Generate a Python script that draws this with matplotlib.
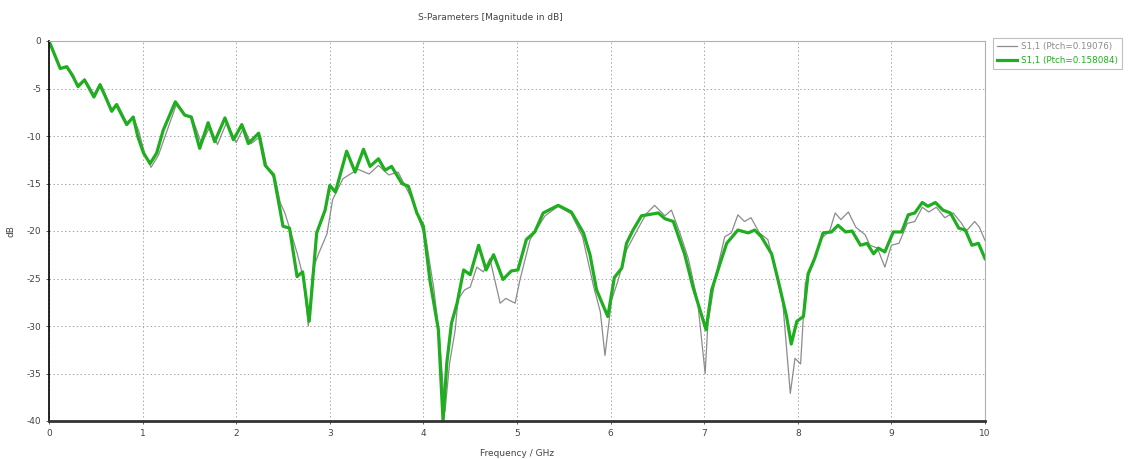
import matplotlib
matplotlib.use("Agg")
import matplotlib.pyplot as plt

# S1,1 for the two pitch values (GHz, dB)
green_f = [0.00, 0.05, 0.12, 0.19, 0.25, 0.31, 0.38, 0.48, 0.545, 0.60, 0.67, 0.72,
           0.83, 0.90, 0.95, 1.01, 1.08, 1.15, 1.22, 1.35, 1.45, 1.52, 1.61, 1.70,
           1.77, 1.88, 1.97, 2.06, 2.13, 2.24, 2.31, 2.40, 2.50, 2.57, 2.65, 2.71,
           2.78, 2.86, 2.95, 3.00, 3.06, 3.18, 3.27, 3.36, 3.43, 3.52, 3.59, 3.66,
           3.77, 3.84, 3.93, 4.00, 4.07, 4.16, 4.21, 4.25, 4.30, 4.36, 4.43, 4.50,
           4.59, 4.67, 4.75, 4.85, 4.94, 5.01, 5.10, 5.19, 5.28, 5.44, 5.58, 5.71,
           5.78, 5.85, 5.97, 6.04, 6.12, 6.17, 6.24, 6.33, 6.51, 6.58, 6.67, 6.79,
           6.88, 7.02, 7.08, 7.17, 7.24, 7.36, 7.47, 7.54, 7.61, 7.72, 7.79, 7.88,
           7.93, 7.99, 8.06, 8.11, 8.18, 8.27, 8.36, 8.43, 8.51, 8.58, 8.67, 8.74,
           8.81, 8.86, 8.93, 9.02, 9.11, 9.18, 9.25, 9.33, 9.39, 9.47, 9.55, 9.63,
           9.72, 9.79, 9.86, 9.93, 10.00]
green_db = [0.0, -1.2, -2.9, -2.7, -3.6, -4.8, -4.1, -5.9, -4.6, -5.8, -7.4, -6.7,
            -8.8, -8.0, -10.1, -11.8, -12.9, -11.8, -9.4, -6.4, -7.8, -8.0, -11.3, -8.6,
            -10.6, -8.1, -10.4, -8.8, -10.8, -9.7, -13.1, -14.1, -19.5, -19.7, -24.8, -24.3,
            -29.5, -20.2, -17.8, -15.2, -15.9, -11.6, -13.8, -11.4, -13.2, -12.4, -13.6, -13.2,
            -15.0, -15.3, -18.1, -19.5, -25.2, -30.4, -40.0, -33.9, -29.7, -27.6, -24.1, -24.6,
            -21.5, -24.1, -22.5, -25.1, -24.2, -24.1, -20.9, -20.1, -18.1, -17.3, -18.0, -20.2,
            -22.5, -26.2, -29.0, -24.9, -23.9, -21.3, -19.9, -18.4, -18.1, -18.7, -19.0, -22.4,
            -25.9, -30.4, -26.2, -23.4, -21.3, -19.9, -20.2, -19.9, -20.6, -22.4, -25.2, -29.0,
            -31.9, -29.5, -29.0, -24.5, -22.9, -20.2, -20.1, -19.4, -20.1, -20.0, -21.5, -21.3,
            -22.4, -21.8, -22.2, -20.1, -20.1, -18.3, -18.1, -17.0, -17.4, -17.0, -17.8, -18.1,
            -19.7, -19.9, -21.5, -21.3, -22.9]

gray_f = [0.00, 0.05, 0.12, 0.19, 0.25, 0.31, 0.38, 0.48, 0.55, 0.60, 0.67, 0.73,
          0.83, 0.90, 0.96, 1.02, 1.09, 1.17, 1.27, 1.36, 1.46, 1.53, 1.63, 1.72,
          1.80, 1.90, 2.00, 2.08, 2.16, 2.26, 2.33, 2.42, 2.47, 2.52, 2.58, 2.65,
          2.72, 2.77, 2.82, 2.88, 2.97, 3.03, 3.14, 3.30, 3.42, 3.52, 3.63, 3.73,
          3.87, 3.95, 4.03, 4.11, 4.17, 4.23, 4.28, 4.34, 4.37, 4.44, 4.50, 4.57,
          4.64, 4.71, 4.82, 4.88, 4.98, 5.03, 5.14, 5.23, 5.30, 5.44, 5.58, 5.70,
          5.82, 5.89, 5.94, 6.01, 6.08, 6.17, 6.29, 6.38, 6.47, 6.58, 6.65, 6.74,
          6.83, 6.93, 7.01, 7.04, 7.12, 7.22, 7.29, 7.36, 7.43, 7.50, 7.59, 7.68,
          7.75, 7.84, 7.92, 7.97, 8.03, 8.08, 8.16, 8.25, 8.34, 8.40, 8.46, 8.54,
          8.62, 8.72, 8.77, 8.85, 8.93, 9.00, 9.08, 9.17, 9.25, 9.33, 9.40, 9.48,
          9.57, 9.66, 9.75, 9.80, 9.89, 9.94, 10.00]
gray_db = [0.0, -1.2, -2.8, -2.8, -3.8, -4.6, -4.0, -5.6, -4.5, -5.6, -7.2, -6.6,
           -8.6, -8.0, -9.5, -11.8, -13.3, -12.0, -9.2, -6.7, -7.9, -8.1, -10.8, -9.0,
           -10.9, -8.5, -10.7, -9.1, -10.8, -10.0, -13.4, -14.6, -17.0, -18.1, -20.0, -22.3,
           -25.0, -30.0, -24.0, -22.4, -20.3, -16.7, -14.5, -13.5, -14.0, -13.1, -14.1, -13.8,
           -16.5, -18.7, -21.0, -26.0, -31.0, -39.0, -33.9, -30.4, -27.2, -26.2, -25.9, -23.8,
           -24.3, -22.9, -27.6, -27.1, -27.6, -25.2, -20.9, -19.5, -18.4, -17.4, -18.2, -20.6,
           -25.9, -28.5, -33.1, -27.3, -25.2, -22.0, -19.8, -18.2, -17.3, -18.4, -17.8, -20.2,
           -22.9, -27.4, -35.0, -29.7, -24.8, -20.6, -20.2, -18.3, -19.0, -18.6, -20.2, -20.9,
           -23.7, -27.6, -37.1, -33.4, -34.0, -25.5, -23.6, -20.8, -20.0, -18.1, -18.8, -18.0,
           -19.6, -20.4, -21.5, -21.8, -23.8, -21.5, -21.3, -19.2, -19.0, -17.5, -18.0, -17.5,
           -18.6, -18.1, -19.2, -20.0, -19.0, -19.6, -21.0]

x_ticks = list(range(0, 11))
y_ticks = [0, -5, -10, -15, -20, -25, -30, -35, -40]

GREEN = "#1fae1f"
GRAY = "#8c8c8c"


def main():
    plt.rcParams["axes.unicode_minus"] = False
    fig = plt.figure(figsize=(11.3, 4.59), dpi=100)
    ax = fig.add_axes([49 / 1130, 1 - 421 / 459, 936 / 1130, 380 / 459])

    ax.plot(gray_f, gray_db, color=GRAY, lw=0.9, label="S1,1 (Ptch=0.19076)")
    ax.plot(green_f, green_db, color=GREEN, lw=2.3, solid_joinstyle="round",
            label="S1,1 (Ptch=0.158084)")

    ax.set_xlim(0, 10)
    ax.set_ylim(-40, 0)
    ax.set_xticks(x_ticks)
    ax.set_yticks(y_ticks)
    ax.tick_params(labelsize=6.5, colors="#444444", length=2, width=0.6)
    ax.grid(True, linestyle=(0, (1.5, 2.5)), color="#a8a8a8", lw=0.7)

    for side in ("top", "right"):
        ax.spines[side].set_color("#b0b0b0")
        ax.spines[side].set_linewidth(0.8)
    ax.spines["left"].set_color("black")
    ax.spines["left"].set_linewidth(1.2)
    ax.spines["bottom"].set_color("#333333")
    ax.spines["bottom"].set_linewidth(2.0)

    ax.set_xlabel("Frequency / GHz", fontsize=6.5, color="#444444", labelpad=8)
    ax.set_ylabel("dB", fontsize=6.5, color="#444444")
    ax.yaxis.set_label_coords(-0.036, 0.5)
    fig.text(490 / 1130, 1 - 18 / 459, "S-Parameters [Magnitude in dB]",
             fontsize=6.5, color="#444444", ha="center", va="center")

    leg = fig.legend(loc="upper left", bbox_to_anchor=(993 / 1130, 1 - 38 / 459),
                     fontsize=6.3, frameon=True, fancybox=False, handlelength=2.3,
                     handletextpad=0.5, borderaxespad=0, borderpad=0.45,
                     labelspacing=0.6)
    leg.get_frame().set_edgecolor("#b0b0b0")
    leg.get_frame().set_linewidth(0.8)
    for txt, col in zip(leg.get_texts(), [GRAY, GREEN]):
        txt.set_color(col)

    fig.savefig("out.png", dpi=100)


if __name__ == "__main__":
    main()
